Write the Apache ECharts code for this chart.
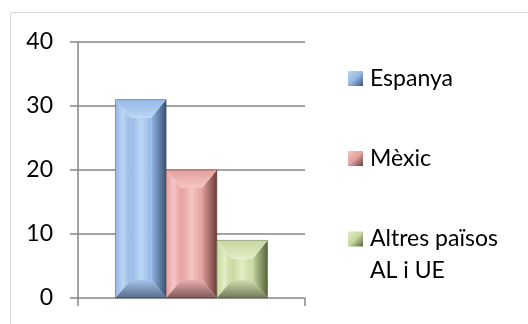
<!DOCTYPE html>
<html>
<head>
<meta charset="utf-8">
<script src="https://cdn.jsdelivr.net/npm/echarts@6/dist/echarts.min.js"></script>
<style>
  html, body { margin: 0; padding: 0; background: #fff; }
  #chart { width: 528px; height: 324px; }
</style>
</head>
<body>
<div id="chart"></div>
<script>
// Data
const categories = [''];
const seriesNames = ['Espanya', 'Mèxic', 'Altres països AL i UE'];
const espanya = [31];
const mexic = [20];
const altres = [9];
const yTicks = { min: 0, max: 40, interval: 10 };

// Palette per series: [light, main, dark]
const palettes = [
  ['#bcd6f5', '#95b8e6', '#3a5272'],
  ['#f5c6c4', '#e3a09e', '#6a3c3b'],
  ['#e2edc4', '#c5d89e', '#59633c']
];

const FONT = 'Lato';
const FONT_SIZE = 23;
const G = echarts.graphic;

function lin(x0, y0, x1, y1, stops) {
  return new G.LinearGradient(x0, y0, x1, y1, stops.map((c, i) => ({ offset: i / (stops.length - 1), color: c })));
}

// Beveled bar drawn from the value axis coordinates
function makeRender(seriesIdx) {
  const pal = palettes[seriesIdx];
  return function (params, api) {
    const cat = api.value(0);
    const val = api.value(1);
    const base = api.coord([cat, 0]);
    const top = api.coord([cat, val]);
    const band = api.size([1, 0])[0];
    const barW = band * 0.67 / 3;
    const x0 = base[0] - 1.5 * barW + seriesIdx * barW;
    const x1 = x0 + barW;
    const y0 = top[1];
    const y1 = base[1];
    const h = y1 - y0;
    const bx = 15;
    const by = Math.min(18, h / 2 - 1);
    const ix0 = x0 + bx, ix1 = x1 - bx, iy0 = y0 + by, iy1 = y1 - by;
    const [light, main, dark] = pal;
    const children = [
      { // centre face
        type: 'rect',
        shape: { x: ix0, y: iy0, width: ix1 - ix0, height: Math.max(0, iy1 - iy0) },
        style: { fill: lin(0, 0, 1, 0, [main, light, main]) }
      },
      { // left face
        type: 'polygon',
        shape: { points: [[x0, y0], [ix0, iy0], [ix0, iy1], [x0, y1]] },
        style: { fill: lin(0, 0, 1, 0, [main, light, main]) }
      },
      { // right face
        type: 'polygon',
        shape: { points: [[x1, y0], [x1, y1], [ix1, iy1], [ix1, iy0]] },
        style: { fill: lin(0, 0, 1, 0, [main, dark]) }
      },
      { // top face
        type: 'polygon',
        shape: { points: [[x0, y0], [x1, y0], [ix1, iy0], [ix0, iy0]] },
        style: { fill: lin(0, 0, 0, 1, [main, light]) }
      },
      { // bottom face
        type: 'polygon',
        shape: { points: [[x0, y1], [x1, y1], [ix1, iy1], [ix0, iy1]] },
        style: { fill: lin(0, 1, 0, 0, [dark, main]), opacity: 0.85 }
      },
      { // outline
        type: 'rect',
        shape: { x: x0, y: y0, width: barW, height: h },
        style: { fill: null, stroke: dark, lineWidth: 1, opacity: 0.5 }
      }
    ];
    return { type: 'group', children: children };
  };
}

const values = [espanya, mexic, altres];

const series = seriesNames.map((name, i) => ({
  type: 'custom',
  name: name,
  renderItem: makeRender(i),
  encode: { x: 0, y: 1 },
  itemStyle: { color: lin(0, 0, 1, 1, [palettes[i][0], palettes[i][1], palettes[i][2]]) },
  data: values[i].map((v, k) => [k, v])
}));

const legendBase = {
  orient: 'vertical',
  left: 348,
  padding: 0,
  icon: 'rect',
  itemWidth: 15,
  itemHeight: 15,
  selectedMode: false,
  textStyle: { fontFamily: FONT, fontSize: FONT_SIZE, color: '#000', padding: [0, 0, 0, 2] }
};

const option = {
  animation: false,
  backgroundColor: '#fff',
  graphic: [{
    type: 'rect',
    shape: { x: 10.5, y: 12.5, width: 600, height: 400 },
    style: { fill: null, stroke: '#d9d9d9', lineWidth: 1 },
    silent: true
  }],
  grid: { left: 78, right: 223, top: 42, bottom: 26 },
  xAxis: {
    type: 'category',
    data: categories,
    boundaryGap: true,
    axisLine: { show: false },
    axisTick: { show: true, length: 8, lineStyle: { color: '#868686', width: 1.5 } },
    axisLabel: { show: false },
    splitLine: { show: false }
  },
  yAxis: {
    type: 'value',
    min: yTicks.min,
    max: yTicks.max,
    interval: yTicks.interval,
    axisLine: { show: true, lineStyle: { color: '#868686', width: 1.5 } },
    axisTick: { show: true, length: 8, lineStyle: { color: '#868686', width: 1.5 } },
    axisLabel: { fontFamily: FONT, fontSize: FONT_SIZE, color: '#000', margin: 25 },
    splitLine: { show: true, lineStyle: { color: '#868686', width: 1.5 } }
  },
  legend: [
    Object.assign({}, legendBase, {
      top: 67,
      itemGap: 57,
      data: [seriesNames[0], seriesNames[1]]
    }),
    Object.assign({}, legendBase, {
      top: 191,
      data: [{ name: seriesNames[2], textStyle: { lineHeight: 32 } }],
      // leading blank line keeps the first text line level with the icon
      formatter: () => '\nAltres països\nAL i UE'
    })
  ],
  series: series
};

const chart = echarts.init(document.getElementById('chart'), null, { renderer: 'canvas' });
chart.setOption(option);
</script>
</body>
</html>
